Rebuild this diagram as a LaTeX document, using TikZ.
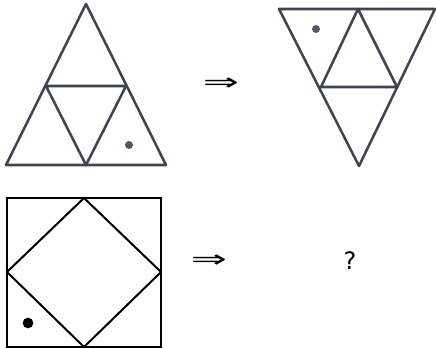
\documentclass[tikz,border=0pt]{standalone}
\usepackage{fontspec}
\setsansfont{DejaVu Sans}
\definecolor{slate}{HTML}{3F4452}
\begin{document}
\begin{tikzpicture}[x=0.75pt, y=-0.75pt,
  tri/.style={slate, line width=1.9pt, line join=round},
  sq/.style={black, line width=1.5pt, line join=miter},
  tridot/.style={circle, fill=slate!90, inner sep=0pt, minimum size=6pt},
  sqdot/.style={circle, fill=black, inner sep=0pt, minimum size=8pt},
  sign/.style={inner sep=0pt, font=\sffamily\fontsize{18}{18}\selectfont}]
\useasboundingbox (0,0) rectangle (436,349);
% ---- upper left: triangle split in four ----
\coordinate (A) at (86,4);
\coordinate (B) at (6,165);
\coordinate (C) at (166,165);
\coordinate (AB) at (46,86);
\coordinate (AC) at (126,86);
\coordinate (BC) at (86,165);
\draw[tri] (A) -- (B) -- (C) -- cycle;
\draw[tri] (AB) -- (AC) -- (BC) -- cycle;
\node[tridot] (d1) at (129,145) {};
\node[sign] (arr1) at (221,84) {\scalebox{1.8}[1]{⇒}};
% ---- upper right: same, turned over ----
\coordinate (P) at (279,9);
\coordinate (Q) at (435,9);
\coordinate (R) at (359,166);
\coordinate (PQ) at (358,9);
\coordinate (PR) at (321,87);
\coordinate (QR) at (397,87);
\draw[tri] (P) -- (Q) -- (R) -- cycle;
\draw[tri] (PQ) -- (PR) -- (QR) -- cycle;
\node[tridot] (d2) at (316,29) {};
% ---- lower row: square with diamond ----
\draw[sq] (7,198) rectangle (161,347);
\draw[sq] (84,198) -- (7,272) -- (84,347) -- (161,272) -- cycle;
\node[sqdot] (d3) at (28,323) {};
\node[sign] (arr2) at (209,261) {\scalebox{1.8}[1]{⇒}};
\node[sign] (ask) at (350,261) {?};
\end{tikzpicture}
\end{document}
